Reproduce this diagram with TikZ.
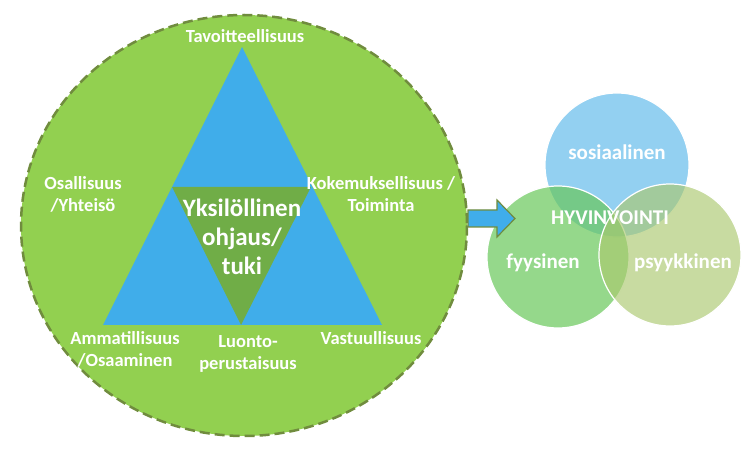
\documentclass[tikz,border=0pt]{standalone}
\usepackage{fontspec}
\setmainfont{Carlito}
\usepackage{tikz}
\usetikzlibrary{positioning}

\definecolor{leafgreen}{RGB}{146,208,80}
\definecolor{rimgreen}{RGB}{112,140,62}
\definecolor{skyblue}{RGB}{64,173,234}
\definecolor{coregreen}{RGB}{112,173,71}
\definecolor{socblue}{RGB}{120,196,238}
\definecolor{bodygreen}{RGB}{104,200,90}
\definecolor{mindolive}{RGB}{170,200,110}

\begin{document}
\begin{tikzpicture}[x=1pt, y=-1pt,
    lbl/.style={text=white, font=\bfseries\fontsize{18.5}{22}\selectfont, align=center, inner sep=0pt},
    corelbl/.style={text=white, font=\bfseries\fontsize{25}{29}\selectfont, align=center, inner sep=0pt},
    vennlbl/.style={text=white, font=\bfseries\fontsize{21}{24}\selectfont, inner sep=0pt},
    venn/.style={draw=white, line width=1.2pt}]
    \useasboundingbox (0,0) rectangle (753,449);

    % Big dashed circle
    \filldraw[fill=leafgreen, draw=rimgreen, line width=2.5pt, dash pattern=on 10pt off 5pt] (244,225.5) ellipse (223 and 210.5);

    % Triangle with inverted core
    \fill[skyblue] (242,47) -- (382,325) -- (103,325) -- cycle;
    \fill[coregreen] (172,187) -- (311,187) -- (241,325) -- cycle;

    % Labels round the triangle
    \node[lbl] (tavo) at (245,36) {Tavoitteellisuus};
    \node[lbl] (osal) at (83,194) {Osallisuus\\/Yhteisö};
    \node[lbl] (koke) at (381,194) {Kokemuksellisuus /\\Toiminta};
    \node[lbl] (amma) at (125,349) {Ammatillisuus\\/Osaaminen};
    \node[lbl] (luon) at (248,354) {Luonto-\\perustaisuus};
    \node[lbl] (vast) at (371,338) {Vastuullisuus};
    \node[corelbl] (core) at (242,237) {Yksilöllinen\\ohjaus/\\tuki};

    % Venn circles
    \filldraw[venn, fill=socblue, fill opacity=0.8] (617,165) circle (72);
    \filldraw[venn, fill=bodygreen, fill opacity=0.7] (558,257) circle (71);
    \filldraw[venn, fill=mindolive, fill opacity=0.65] (670,255) circle (71);

    % Block arrow
    \filldraw[fill=skyblue, draw=rimgreen, line width=1.2pt, line join=miter]
        (468,210) -- (497,210) -- (497,200) -- (515,218.5) -- (497,237) -- (497,227) -- (468,227) -- cycle;

    % Venn labels
    \node[vennlbl] (sosi) at (617,152) {sosiaalinen};
    \node[vennlbl] (hyvi) at (610,218) {HYVINVOINTI};
    \node[vennlbl] (fyys) at (543,263) {fyysinen};
    \node[vennlbl] (psyy) at (683,263) {psyykkinen};
\end{tikzpicture}
\end{document}
